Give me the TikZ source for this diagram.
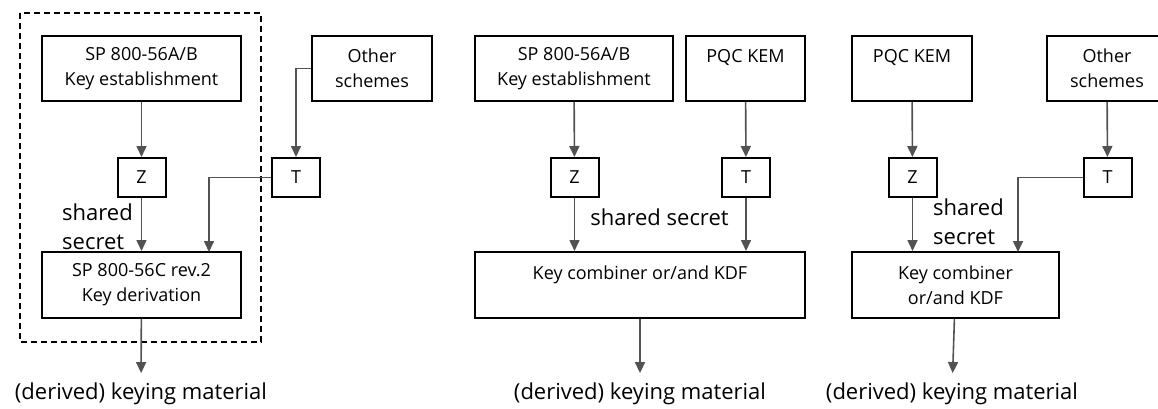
\documentclass[tikz,border=0pt]{standalone}
\usepackage{fontspec}
\setmainfont{Open Sans}
\usetikzlibrary{arrows.meta,positioning}

\begin{document}
\begin{tikzpicture}[
		x=1pt, y=-1pt,
		font=\fontsize{18}{25}\selectfont,
		block/.style={draw, line width=2pt, align=center, inner sep=0pt, minimum height=65pt},
		secbox/.style={draw, line width=2pt, inner sep=0pt, minimum width=48pt, minimum height=39pt},
		flow/.style={draw=black!68, line width=1.6pt, -{Triangle[length=11pt,width=10pt]}},
		result/.style={anchor=base, inner ysep=9pt, font=\fontsize{22}{29}\selectfont},
		sslabel/.style={align=left, anchor=west, inner sep=0pt, font=\fontsize{22}{29}\selectfont}
		]
		\clip (0,0) rectangle (1158,409);
		
		% Left: NIST only
		\draw[black, line width=1.6pt, dash pattern=on 6pt off 4pt] (20,13) rectangle (261,342);
		\node[block, minimum width=199pt] (est1) at (141.5,68.5) {SP 800-56A/B\\Key establishment};
		\node[block, minimum width=120pt] (oth1) at (372,68.5) {Other\\schemes};
		\node[secbox] (z1) at (141.5,177.5) {Z};
		\node[secbox] (t1) at (296,177.5) {T};
		\node[block, minimum width=199pt, minimum height=66pt] (kdf1) at (141.5,285) {SP 800-56C rev.2\\Key derivation};
		\node[sslabel] (ss1) at (62,227) {shared\\secret};
		\node[result] (out1) at (141,399) {(derived) keying material};
		\coordinate (tin1) at (209,252);
		
		\draw[flow] (est1) -- (z1);
		\draw[flow] (oth1.west) -| (t1);
		\draw[flow] (z1) -- (kdf1);
		\draw[flow] (t1.west) -| (tin1);
		\draw[flow] (kdf1) -- (out1);
		
		% Middle: hybrid with PQC KEM
		\node[block, minimum width=198pt] (est2) at (574,68.5) {SP 800-56A/B\\Key establishment};
		\node[block, minimum width=119pt] (pqc2) at (745.5,68.5) {PQC KEM\\~};
		\node[secbox] (z2) at (574.5,177.5) {Z};
		\node[secbox] (t2) at (746,177.5) {T};
		\node[block, minimum width=330pt, minimum height=66pt] (comb2) at (640,285) {Key combiner or/and KDF\\~};
		\node[sslabel, anchor=center] (ss2) at (659.5,217) {shared secret};
		\node[result] (out2) at (640,399) {(derived) keying material};
		
		\draw[flow] (est2) -- (z2);
		\draw[flow] (pqc2) -- (t2);
		\draw[flow] (z2) -- (z2 |- comb2.north);
		\draw[flow] (t2) -- (t2 |- comb2.north);
		\draw[flow] (comb2) -- (out2);
		
		% Right: PQC KEM with other schemes
		\node[block, minimum width=120pt] (pqc3) at (912,68.5) {PQC KEM\\~};
		\node[block, minimum width=120pt] (oth3) at (1107,68.5) {Other\\schemes};
		\node[secbox] (z3) at (912.5,177.5) {Z};
		\node[secbox] (t3) at (1107.5,177.5) {T};
		\node[block, minimum width=207pt, minimum height=66pt] (comb3) at (955.5,285) {Key combiner\\or/and KDF};
		\node[sslabel] (ss3) at (933,222) {shared\\secret};
		\node[result] (out3) at (952,399) {(derived) keying material};
		\coordinate (tin3) at (1018,252);
		
		\draw[flow] (pqc3) -- (z3);
		\draw[flow] (oth3) -- (t3);
		\draw[flow] (z3) -- (z3 |- comb3.north);
		\draw[flow] (t3.west) -| (tin3);
		\draw[flow] (comb3) -- (out3);
\end{tikzpicture}
\end{document}
